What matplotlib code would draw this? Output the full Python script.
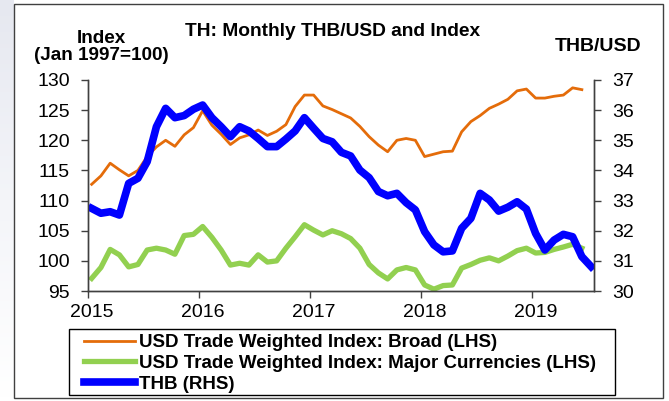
import numpy as np
import matplotlib
matplotlib.use("Agg")
import matplotlib.pyplot as plt
from matplotlib.patches import Rectangle
from matplotlib.transforms import ScaledTranslation

plt.rcParams['font.family'] = ['Liberation Sans', 'DejaVu Sans']

# monthly data, Jan 2015 onwards
broad = [112.7, 114.1, 116.2, 115.1, 114.1, 115.0, 117.3, 118.9, 120.0, 119.0,
         120.9, 122.1, 124.9, 122.5, 121.0, 119.3, 120.4, 120.9, 121.7, 120.8,
         121.5, 122.6, 125.6, 127.5, 127.5, 125.7, 125.1, 124.4, 123.7, 122.3,
         120.6, 119.2, 118.1, 120.0, 120.3, 120.0, 117.3, 117.7, 118.1, 118.2,
         121.4, 123.1, 124.1, 125.3, 126.0, 126.8, 128.2, 128.5, 127.0, 127.0,
         127.3, 127.5, 128.7, 128.4]
major = [97.1, 98.9, 101.9, 101.0, 99.0, 99.4, 101.8, 102.1, 101.8, 101.1,
         104.2, 104.4, 105.7, 103.9, 101.8, 99.3, 99.6, 99.3, 101.0, 99.8,
         100.0, 102.1, 104.0, 106.0, 105.1, 104.3, 105.0, 104.5, 103.7, 102.1,
         99.4, 98.0, 97.0, 98.5, 98.9, 98.5, 96.0, 95.3, 95.9, 96.0,
         98.8, 99.4, 100.1, 100.5, 100.0, 100.8, 101.7, 102.1, 101.3, 101.4,
         101.9, 102.3, 102.75, 102.1]
thb = [32.74, 32.58, 32.63, 32.52, 33.57, 33.74, 34.29, 35.45, 36.06, 35.75,
       35.82, 36.03, 36.17, 35.75, 35.45, 35.12, 35.45, 35.31, 35.06, 34.79,
       34.79, 35.04, 35.31, 35.75, 35.40, 35.06, 34.95, 34.60, 34.48, 34.01,
       33.76, 33.30, 33.16, 33.24, 32.93, 32.69, 31.97, 31.53, 31.30, 31.33,
       32.08, 32.41, 33.24, 33.02, 32.65, 32.78, 32.96, 32.72, 31.91, 31.36,
       31.69, 31.88, 31.80, 31.14, 30.81]
years = [2015, 2016, 2017, 2018, 2019]

x_idx = 2015 + (np.arange(len(thb)) + 0.4) / 12

fig = plt.figure(figsize=(6.69, 4.01), dpi=100)
ax = fig.add_axes([0.1315, 0.2743, 0.7565, 0.5262])
ax2 = ax.twinx()

l1, = ax.plot(x_idx[:len(broad)], broad, color='#E46C0A', lw=2.0,
              label='USD Trade Weighted Index: Broad (LHS)')
l2, = ax.plot(x_idx[:len(major)], major, color='#92D050', lw=3.8,
              label='USD Trade Weighted Index: Major Currencies (LHS)')
l3, = ax2.plot(x_idx, thb, color='#0000FF', lw=5.5,
               label='THB (RHS)')

ax.set_xlim(2015, 2019.56)
ax.set_ylim(95, 130)
ax2.set_ylim(30, 37)
ax.set_yticks(range(95, 131, 5))
ax2.set_yticks(range(30, 38))
ax.set_xticks(years)
ax.set_xticklabels([str(y) for y in years])

for a in (ax, ax2):
    a.spines['top'].set_visible(False)
    for s in a.spines.values():
        s.set_color('#404040')
        s.set_linewidth(1.0)
    a.tick_params(labelsize=14, length=4.7, width=1, color='#404040', pad=8.4)
ax.tick_params(axis='x', pad=4.5)
shift = ScaledTranslation(4 / 100, 0, fig.dpi_scale_trans)
for lab in ax.get_xticklabels():
    lab.set_transform(lab.get_transform() + shift)

fig.text(0.497, 0.922, 'TH: Monthly THB/USD and Index', ha='center',
         va='center', fontsize=13.8, fontweight='bold')
fig.text(0.151, 0.905, 'Index', ha='center', va='center', fontsize=13.6,
         fontweight='bold')
fig.text(0.151, 0.862, '(Jan 1997=100)', ha='center', va='center',
         fontsize=13.6, fontweight='bold')
fig.text(0.894, 0.883, 'THB/USD', ha='center', va='center', fontsize=14,
         fontweight='bold')

leg = fig.legend(handles=[l1, l2, l3], loc='upper left',
                 bbox_to_anchor=(84 / 669, 1 - 334 / 401), borderaxespad=0,
                 frameon=False, handlelength=2.7, handletextpad=0.25,
                 borderpad=0, labelspacing=0.2,
                 prop={'weight': 'bold', 'size': 13.5})
fig.patches.append(Rectangle((69 / 669, 1 - 395 / 401), 546 / 669, 66 / 401,
                             transform=fig.transFigure, fill=False,
                             edgecolor='black', lw=1.0))

# faint shading outside the chart frame on the left
grad = np.linspace(0, 1, 100).reshape(-1, 1)
bg = fig.add_axes([0, 0, 14 / 669, 1], zorder=-5)
bg.imshow(grad, aspect='auto', cmap=matplotlib.colors.LinearSegmentedColormap.from_list(
    'w', ['#e6e8f0', '#f4f5f9', '#ffffff']), extent=[0, 1, 0, 1])
bg.axis('off')

fig.patches.append(Rectangle((14 / 669, 1 - 398 / 401), 649 / 669, 394 / 401,
                             transform=fig.transFigure, fill=False,
                             edgecolor='#404040', lw=1.0))

fig.savefig('out.png', dpi=100)
